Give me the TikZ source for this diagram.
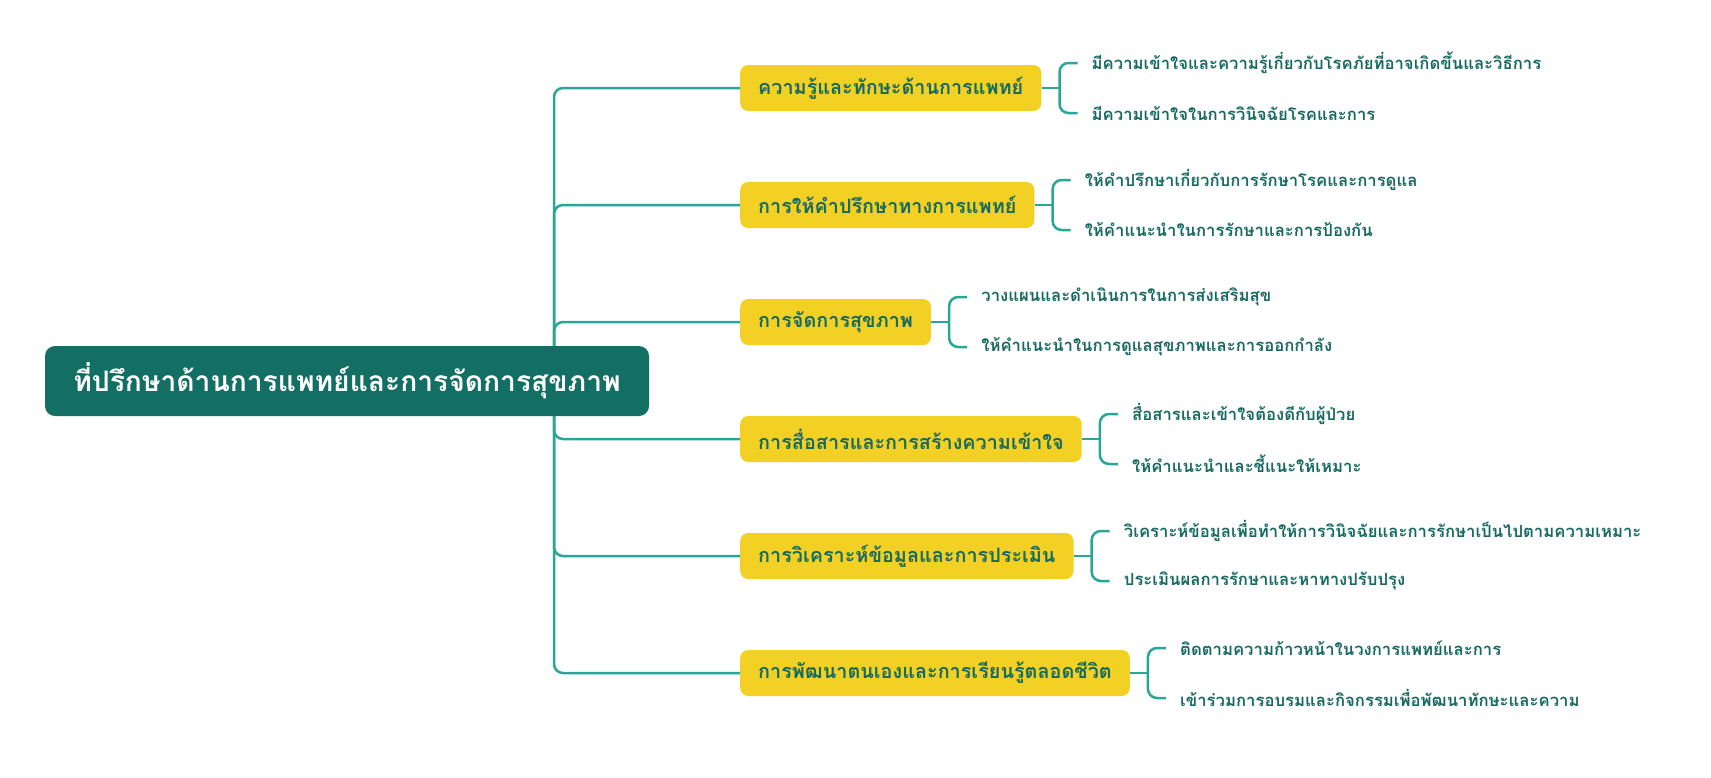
\documentclass[tikz,border=0pt]{standalone}
\usepackage{fontspec}
\newfontfamily\thaifont[Script=Thai]{Loma}
\usetikzlibrary{positioning,calc}
\definecolor{rootteal}{RGB}{19,110,99}
\definecolor{branchyellow}{RGB}{242,208,36}
\definecolor{linkteal}{RGB}{42,166,152}
\definecolor{inkteal}{RGB}{22,106,96}

\begin{document}
\begin{tikzpicture}[
  x=1pt, y=-1pt,
  font=\thaifont,
  topic/.style={fill=rootteal, rounded corners=10pt, text=white, minimum width=604pt, minimum height=70pt, font=\thaifont\bfseries\fontsize{28.2}{31}\selectfont},
  branch/.style={fill=branchyellow, rounded corners=8pt, text=inkteal, minimum height=46pt, inner xsep=18pt, anchor=west, font=\thaifont\bfseries\fontsize{19.8}{22}\selectfont},
  leaf/.style={text=inkteal, inner xsep=14pt, inner ysep=2pt, anchor=west, font=\thaifont\bfseries\fontsize{16.7}{19}\selectfont},
  link/.style={draw=linkteal, line width=2.5pt, rounded corners=9pt},
]
\useasboundingbox (0,0) rectangle (1711,777);

% main topics
\node[branch] (B1) at (740,88) {ความรู้และทักษะด้านการแพทย์};
\node[branch] (B2) at (740,205) {การให้คำปรึกษาทางการแพทย์};
\node[branch] (B3) at (740,322) {การจัดการสุขภาพ};
\node[branch] (B4) at (740,439) {การสื่อสารและการสร้างความเข้าใจ};
\node[branch] (B5) at (740,556) {การวิเคราะห์ข้อมูลและการประเมิน};
\node[branch] (B6) at (740,673) {การพัฒนาตนเองและการเรียนรู้ตลอดชีวิต};

% details
\node[leaf] (L1a) at ($(B1.east)+(36,-25)$) {มีความเข้าใจและความรู้เกี่ยวกับโรคภัยที่อาจเกิดขึ้นและวิธีการ};
\node[leaf] (L1b) at ($(B1.east)+(36,25)$) {มีความเข้าใจในการวินิจฉัยโรคและการ};
\node[leaf] (L2a) at ($(B2.east)+(36,-25)$) {ให้คำปรึกษาเกี่ยวกับการรักษาโรคและการดูแล};
\node[leaf] (L2b) at ($(B2.east)+(36,25)$) {ให้คำแนะนำในการรักษาและการป้องกัน};
\node[leaf] (L3a) at ($(B3.east)+(36,-25)$) {วางแผนและดำเนินการในการส่งเสริมสุข};
\node[leaf] (L3b) at ($(B3.east)+(36,25)$) {ให้คำแนะนำในการดูแลสุขภาพและการออกกำลัง};
\node[leaf] (L4a) at ($(B4.east)+(36,-25)$) {สื่อสารและเข้าใจต้องดีกับผู้ป่วย};
\node[leaf] (L4b) at ($(B4.east)+(36,25)$) {ให้คำแนะนำและชี้แนะให้เหมาะ};
\node[leaf] (L5a) at ($(B5.east)+(36,-25)$) {วิเคราะห์ข้อมูลเพื่อทำให้การวินิจฉัยและการรักษาเป็นไปตามความเหมาะ};
\node[leaf] (L5b) at ($(B5.east)+(36,25)$) {ประเมินผลการรักษาและหาทางปรับปรุง};
\node[leaf] (L6a) at ($(B6.east)+(36,-25)$) {ติดตามความก้าวหน้าในวงการแพทย์และการ};
\node[leaf] (L6b) at ($(B6.east)+(36,25)$) {เข้าร่วมการอบรมและกิจกรรมเพื่อพัฒนาทักษะและความ};

\coordinate (hub) at (554,381);

\draw[link] (hub) |- (B1.west);
\draw[link] (hub) |- (B2.west);
\draw[link] (hub) |- (B3.west);
\draw[link] (hub) |- (B4.west);
\draw[link] (hub) |- (B5.west);
\draw[link] (hub) |- (B6.west);

% brackets
\draw[link] (B1.east) -- ++(18,0);
\draw[link] (L1a.west) -| ($(B1.east)+(18,0)$) |- (L1b.west);
\draw[link] (B2.east) -- ++(18,0);
\draw[link] (L2a.west) -| ($(B2.east)+(18,0)$) |- (L2b.west);
\draw[link] (B3.east) -- ++(18,0);
\draw[link] (L3a.west) -| ($(B3.east)+(18,0)$) |- (L3b.west);
\draw[link] (B4.east) -- ++(18,0);
\draw[link] (L4a.west) -| ($(B4.east)+(18,0)$) |- (L4b.west);
\draw[link] (B5.east) -- ++(18,0);
\draw[link] (L5a.west) -| ($(B5.east)+(18,0)$) |- (L5b.west);
\draw[link] (B6.east) -- ++(18,0);
\draw[link] (L6a.west) -| ($(B6.east)+(18,0)$) |- (L6b.west);

\node[topic] (root) at (347,381) {ที่ปรึกษาด้านการแพทย์และการจัดการสุขภาพ};
\end{tikzpicture}
\end{document}
